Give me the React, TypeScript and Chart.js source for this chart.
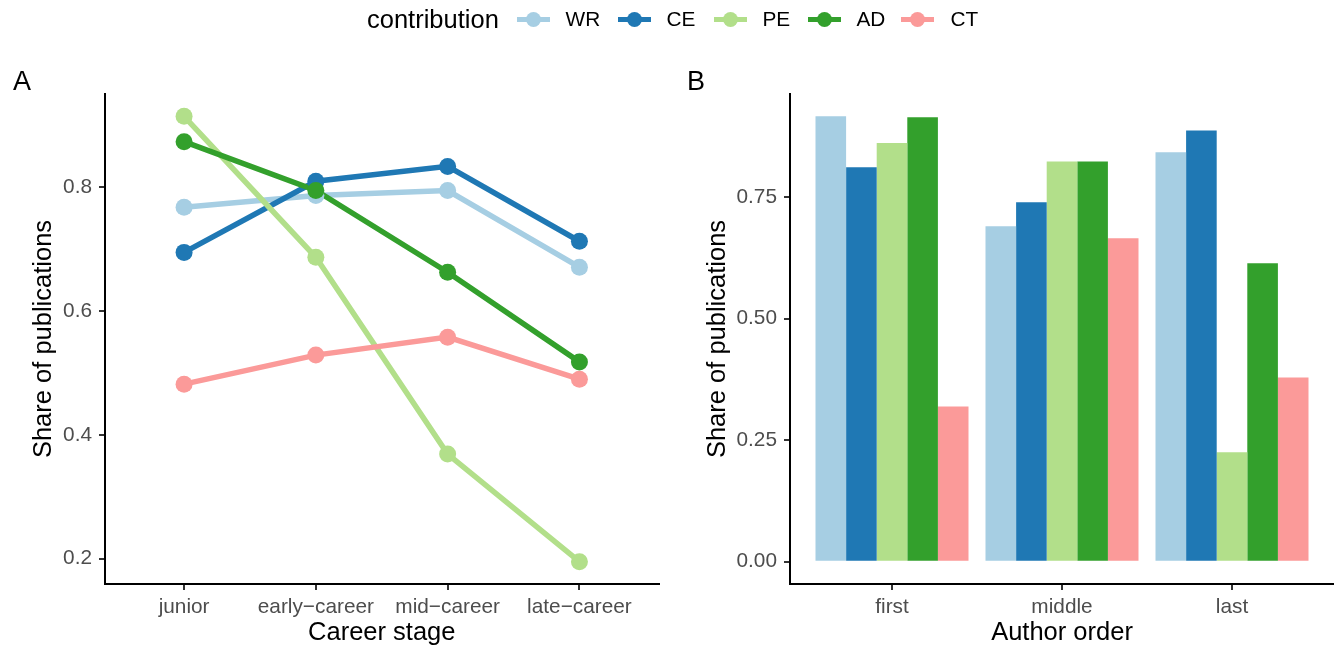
import React, { useEffect, useRef } from "react";
import { Chart, registerables } from "chart.js";
Chart.register(...registerables);

const contributions = ["WR", "CE", "PE", "AD", "CT"];
const colors = ["#A6CEE3", "#1F78B4", "#B2DF8A", "#33A02C", "#FB9A99"];

const careerStages = ["junior", "early\u2212career", "mid\u2212career", "late\u2212career"];
const stageWR = [0.768, 0.787, 0.795, 0.671];
const stageCE = [0.695, 0.81, 0.834, 0.713];
const stagePE = [0.915, 0.687, 0.369, 0.195];
const stageAD = [0.874, 0.795, 0.663, 0.518];
const stageCT = [0.482, 0.529, 0.558, 0.49];

const authorOrders = ["first", "middle", "last"];
const orderWR = [0.916, 0.69, 0.842];
const orderCE = [0.811, 0.739, 0.887];
const orderPE = [0.861, 0.823, 0.225];
const orderAD = [0.914, 0.823, 0.614];
const orderCT = [0.319, 0.665, 0.379];

const ticksA = [0.2, 0.4, 0.6, 0.8];
const ticksB = [0, 0.25, 0.5, 0.75];

const FONT = "'Liberation Sans', Arial, sans-serif";
const TICK_COLOR = "#4D4D4D";
const TICK_SIZE = 20.8;
const TITLE_SIZE = 25.5;

const stageSeries = [stageWR, stageCE, stagePE, stageAD, stageCT];
const orderSeries = [orderWR, orderCE, orderPE, orderAD, orderCT];

function axisCommon() {
  return {
    grid: {
      display: true,
      drawOnChartArea: false,
      drawTicks: true,
      tickLength: 6,
      color: "#333333",
      lineWidth: 2,
      offset: false,
    },
    border: { display: true, color: "#000000", width: 2 },
  };
}

export default function App() {
  const refA = useRef<HTMLCanvasElement | null>(null);
  const refB = useRef<HTMLCanvasElement | null>(null);

  useEffect(() => {
    const lineSets = contributions.map((name, k) => ({
      label: name,
      data: stageSeries[k].map((v, i) => ({ x: i, y: v })),
      borderColor: colors[k],
      backgroundColor: colors[k],
      borderWidth: 5.5,
      pointRadius: 0,
      fill: false,
      tension: 0,
      order: 10 - k,
    }));
    const pointSets = contributions.map((name, k) => ({
      label: name + " pts",
      data: stageSeries[k].map((v, i) => ({ x: i, y: v })),
      showLine: false,
      pointRadius: 8.5,
      pointBorderWidth: 0,
      pointBackgroundColor: colors[k],
      borderColor: colors[k],
      backgroundColor: colors[k],
      order: 5 - k,
    }));

    const chartA = new Chart(refA.current!, {
      type: "line",
      data: { datasets: [...lineSets, ...pointSets] as any },
      options: {
        animation: false,
        responsive: false,
        maintainAspectRatio: false,
        layout: { padding: { top: 94, right: 7, left: 0, bottom: 0 } },
        plugins: { legend: { display: false }, tooltip: { enabled: false } },
        scales: {
          x: {
            type: "linear",
            min: -0.6,
            max: 3.6,
            offset: false,
            afterBuildTicks: (s: any) => {
              s.ticks = careerStages.map((_, i) => ({ value: i }));
            },
            afterFit: (s: any) => {
              s.height = 64;
            },
            ticks: {
              autoSkip: false,
              maxRotation: 0,
              padding: 5,
              color: TICK_COLOR,
              font: { family: FONT, size: TICK_SIZE },
              callback: (_v: any, i: number) => careerStages[i],
            },
            title: {
              display: true,
              text: "Career stage",
              color: "#000000",
              font: { family: FONT, size: TITLE_SIZE },
              padding: { top: 0, bottom: 0 },
            },
            ...axisCommon(),
          },
          y: {
            type: "linear",
            min: 0.159,
            max: 0.951,
            afterBuildTicks: (s: any) => {
              s.ticks = ticksA.map((v) => ({ value: v }));
            },
            afterFit: (s: any) => {
              s.width = 105;
            },
            ticks: {
              padding: 7,
              color: TICK_COLOR,
              font: { family: FONT, size: TICK_SIZE },
              callback: (v: any) => Number(v).toFixed(1),
            },
            title: {
              display: true,
              text: "Share of publications",
              color: "#000000",
              font: { family: FONT, size: TITLE_SIZE },
              padding: { top: 29, bottom: 0 },
            },
            ...axisCommon(),
          },
        },
      } as any,
    });

    const barSets = contributions.map((name, k) => ({
      label: name,
      data: orderSeries[k].map((v, i) => ({ x: i, y: v })),
      backgroundColor: colors[k],
      borderWidth: 0,
      categoryPercentage: 0.9,
      barPercentage: 1.0,
    }));

    const chartB = new Chart(refB.current!, {
      type: "bar",
      data: { datasets: barSets as any },
      options: {
        animation: false,
        responsive: false,
        maintainAspectRatio: false,
        layout: { padding: { top: 94, right: 0, left: 0, bottom: 0 } },
        plugins: { legend: { display: false }, tooltip: { enabled: false } },
        scales: {
          x: {
            type: "linear",
            min: -0.6,
            max: 2.6,
            offset: false,
            afterBuildTicks: (s: any) => {
              s.ticks = authorOrders.map((_, i) => ({ value: i }));
            },
            afterFit: (s: any) => {
              s.height = 64;
            },
            ticks: {
              autoSkip: false,
              maxRotation: 0,
              padding: 5,
              color: TICK_COLOR,
              font: { family: FONT, size: TICK_SIZE },
              callback: (_v: any, i: number) => authorOrders[i],
            },
            title: {
              display: true,
              text: "Author order",
              color: "#000000",
              font: { family: FONT, size: TITLE_SIZE },
              padding: { top: 0, bottom: 0 },
            },
            ...axisCommon(),
          },
          y: {
            type: "linear",
            min: -0.0458,
            max: 0.9618,
            beginAtZero: false,
            afterBuildTicks: (s: any) => {
              s.ticks = ticksB.map((v) => ({ value: v }));
            },
            afterFit: (s: any) => {
              s.width = 123;
            },
            ticks: {
              padding: 7,
              color: TICK_COLOR,
              font: { family: FONT, size: TICK_SIZE },
              callback: (v: any) => Number(v).toFixed(2),
            },
            title: {
              display: true,
              text: "Share of publications",
              color: "#000000",
              font: { family: FONT, size: TITLE_SIZE },
              padding: { top: 36, bottom: 0 },
            },
            ...axisCommon(),
          },
        },
      } as any,
    });

    return () => {
      chartA.destroy();
      chartB.destroy();
    };
  }, []);

  const keyLefts = [516.5, 617.5, 713.5, 807.5, 900.7];
  const textLefts = [565.6, 666.5, 762.5, 856.5, 950.5];

  return (
    <div
      style={{
        position: "fixed",
        left: 0,
        top: 0,
        width: 1334,
        height: 648,
        background: "#ffffff",
        fontFamily: FONT,
        overflow: "hidden",
      }}
    >
      <canvas
        ref={refA}
        width={667}
        height={648}
        style={{ position: "absolute", left: 0, top: 0, width: 667, height: 648 }}
      />
      <canvas
        ref={refB}
        width={667}
        height={648}
        style={{ position: "absolute", left: 667, top: 0, width: 667, height: 648 }}
      />
      <div style={{ position: "absolute", left: 13, top: 68, fontSize: 27, lineHeight: "27px", color: "#000" }}>A</div>
      <div style={{ position: "absolute", left: 687, top: 68, fontSize: 27, lineHeight: "27px", color: "#000" }}>B</div>
      <div
        style={{
          position: "absolute",
          left: 367,
          top: 0,
          height: 38,
          display: "flex",
          alignItems: "center",
          fontSize: 25.5,
          color: "#000",
          whiteSpace: "nowrap",
        }}
      >
        contribution
      </div>
      {contributions.map((name, k) => (
        <React.Fragment key={name}>
          <div style={{ position: "absolute", left: keyLefts[k], top: 11.5, width: 33, height: 15 }}>
            <div
              style={{
                position: "absolute",
                left: 0,
                top: 5,
                width: 33,
                height: 5,
                background: colors[k],
              }}
            />
            <div
              style={{
                position: "absolute",
                left: 9,
                top: 0,
                width: 15,
                height: 15,
                borderRadius: "50%",
                background: colors[k],
              }}
            />
          </div>
          <div
            style={{
              position: "absolute",
              left: textLefts[k],
              top: 0,
              height: 38,
              display: "flex",
              alignItems: "center",
              fontSize: TICK_SIZE,
              color: "#000",
              whiteSpace: "nowrap",
            }}
          >
            {name}
          </div>
        </React.Fragment>
      ))}
    </div>
  );
}
